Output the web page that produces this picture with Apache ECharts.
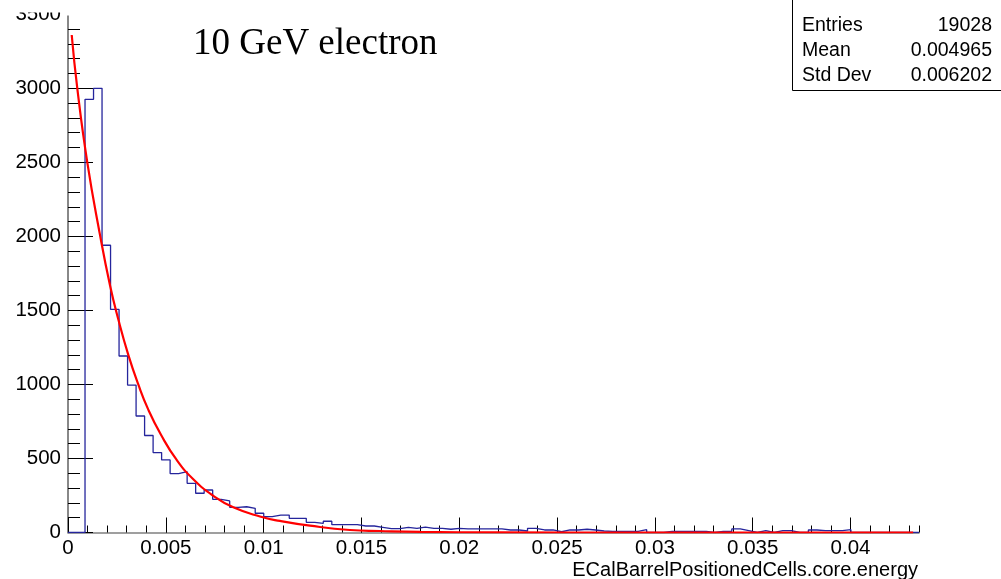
<!DOCTYPE html>
<html>
<head>
<meta charset="utf-8">
<script src="https://cdn.jsdelivr.net/npm/echarts@6/dist/echarts.min.js"></script>
<style>
  html, body { margin: 0; padding: 0; background: #ffffff; }
  #chart { width: 1001px; height: 579px; }
</style>
</head>
<body>
<div id="chart"></div>
<script>
// Histogram of core cell energy: 100 equal bins from 0 to 0.0435
const xMin = 0;
const xMax = 0.0435;
const nBins = 100;
const binCounts = [
  0, 0, 2926, 3000, 1940, 1507, 1192, 996, 787, 655,
  540, 490, 398, 411, 332, 265, 287, 224, 213, 170,
  174, 163, 130, 107, 118, 118, 96, 96, 69, 62,
  76, 53, 53, 53, 44, 44, 35, 26, 26, 35,
  28, 37, 28, 28, 22, 28, 24, 24, 24, 24,
  24, 17, 17, 10, 28, 17, 17, 5, 17, 17,
  22, 17, 10, 8, 8, 8, 8, 19, 0, 0,
  8, 8, 8, 8, 8, 0, 8, 8, 24, 12,
  0, 12, 0, 12, 12, 0, 0, 17, 12, 12,
  12, 19, 0, 0, 0, 0, 0, 0, 0, 0
];

// Exponential fit curve, sampled points
const fitX = [0.00019, 0.000475, 0.000986, 0.001635, 0.002146, 0.002571, 0.003082, 0.003593,
  0.004104, 0.004753, 0.005556, 0.006404, 0.007426, 0.008448, 0.009813, 0.010834,
  0.012368, 0.014412, 0.01594, 0.018, 0.022, 0.03, 0.0432];
const fitY = [3360, 3000, 2500, 2010, 1670, 1440, 1200, 1000,
  830, 660, 490, 360, 248, 170, 108, 78,
  46, 17, 10, 4, 1, 0, 0];

const yMax = 3500;
const yMajor = 500;
const xMajor = 0.005;
const xMinorStep = 0.001;

const titleText = '10 GeV electron';
const xTitle = 'ECalBarrelPositionedCells.core.energy';
const statNames = ['Entries', 'Mean', 'Std Dev'];
const statValues = ['19028', '0.004965', '0.006202'];

const binWidth = (xMax - xMin) / nBins;
const histPoints = [[xMin, 0]];
binCounts.forEach((c, i) => histPoints.push([xMin + i * binWidth, c]));
histPoints.push([xMax, 0]);
const fitPoints = fitX.map((x, i) => [x, fitY[i]]);

const FONT = 'Liberation Sans, Arial, sans-serif';
const axisGray = '#808080';

const chart = echarts.init(document.getElementById('chart'), null, { renderer: 'canvas' });

const statGraphics = [];
statNames.forEach((name, i) => {
  statGraphics.push({
    type: 'text', left: 802, top: 16 + i * 25, z: 101,
    style: { text: name, font: '19.5px ' + FONT, fill: '#000' }
  });
  statGraphics.push({
    type: 'text', right: 9, top: 16 + i * 25, z: 101,
    style: { text: statValues[i], font: '19.5px ' + FONT, fill: '#000', textAlign: 'right' }
  });
});

chart.setOption({
  animation: false,
  backgroundColor: '#ffffff',
  grid: { left: 68, right: 82, top: 14.3, bottom: 46.5, containLabel: false },
  xAxis: [
    {
      type: 'value', min: xMin, max: xMax, interval: xMajor, position: 'bottom',
      axisLine: { show: true, lineStyle: { color: axisGray, width: 1.5 } },
      axisTick: { show: true, inside: true, length: 15, lineStyle: { color: '#000', width: 1 } },
      axisLabel: {
        show: true, margin: 5, color: '#000', fontSize: 20.5, fontFamily: FONT,
        showMaxLabel: false,
        formatter: v => String(+(+v).toFixed(4))
      },
      splitLine: { show: false }
    },
    {
      type: 'value', min: xMin, max: xMax, interval: xMinorStep, position: 'bottom',
      axisLine: { show: false },
      axisTick: { show: true, inside: true, length: 7, lineStyle: { color: '#000', width: 1 } },
      axisLabel: { show: false },
      splitLine: { show: false }
    }
  ],
  yAxis: [
    {
      type: 'value', min: 0, max: yMax, interval: yMajor, position: 'left',
      axisLine: { show: true, lineStyle: { color: axisGray, width: 1.5 } },
      axisTick: { show: true, inside: true, length: 25, lineStyle: { color: '#000', width: 1 } },
      minorTick: { show: true, splitNumber: 5, length: 12, lineStyle: { color: '#000', width: 1 } },
      axisLabel: {
        show: true, margin: 7, color: '#000', fontSize: 20.5, fontFamily: FONT,
        formatter: v => String(v)
      },
      splitLine: { show: false },
      minorSplitLine: { show: false }
    },
    {
      type: 'value', min: 0, max: yMax, interval: yMajor, position: 'right',
      axisLine: { show: true, lineStyle: { color: axisGray, width: 1.5 } },
      axisTick: { show: false },
      axisLabel: { show: false },
      splitLine: { show: false }
    }
  ],
  series: [
    {
      name: 'hist', type: 'line', xAxisIndex: 0, yAxisIndex: 0,
      data: histPoints, step: 'end', showSymbol: false, symbol: 'none',
      lineStyle: { color: '#25259c', width: 1.3 }, z: 2
    },
    {
      name: 'fit', type: 'line', xAxisIndex: 0, yAxisIndex: 0,
      data: fitPoints, smooth: 0.5, showSymbol: false, symbol: 'none',
      lineStyle: { color: '#ff0000', width: 2.2 }, z: 3
    }
  ],
  graphic: [
    { type: 'rect', shape: { x: 0, y: 0, width: 66, height: 12.5 }, style: { fill: '#fff' }, z: 100 },
    { type: 'rect', shape: { x: 66, y: 0, width: 40, height: 15.5 }, style: { fill: '#fff' }, z: 100 },
    {
      type: 'text', left: 193, top: 26, z: 101,
      style: { text: titleText, font: '37px Liberation Serif, Times New Roman, serif', fill: '#000' }
    },
    {
      type: 'rect', z: 100,
      shape: { x: 792.5, y: -5, width: 230, height: 95.5 },
      style: { fill: '#fff', stroke: '#000', lineWidth: 1 }
    },
    ...statGraphics,
    {
      type: 'text', right: 83, top: 560, z: 101,
      style: { text: xTitle, font: '20px ' + FONT, fill: '#000', textAlign: 'right' }
    }
  ]
});
</script>
</body>
</html>
